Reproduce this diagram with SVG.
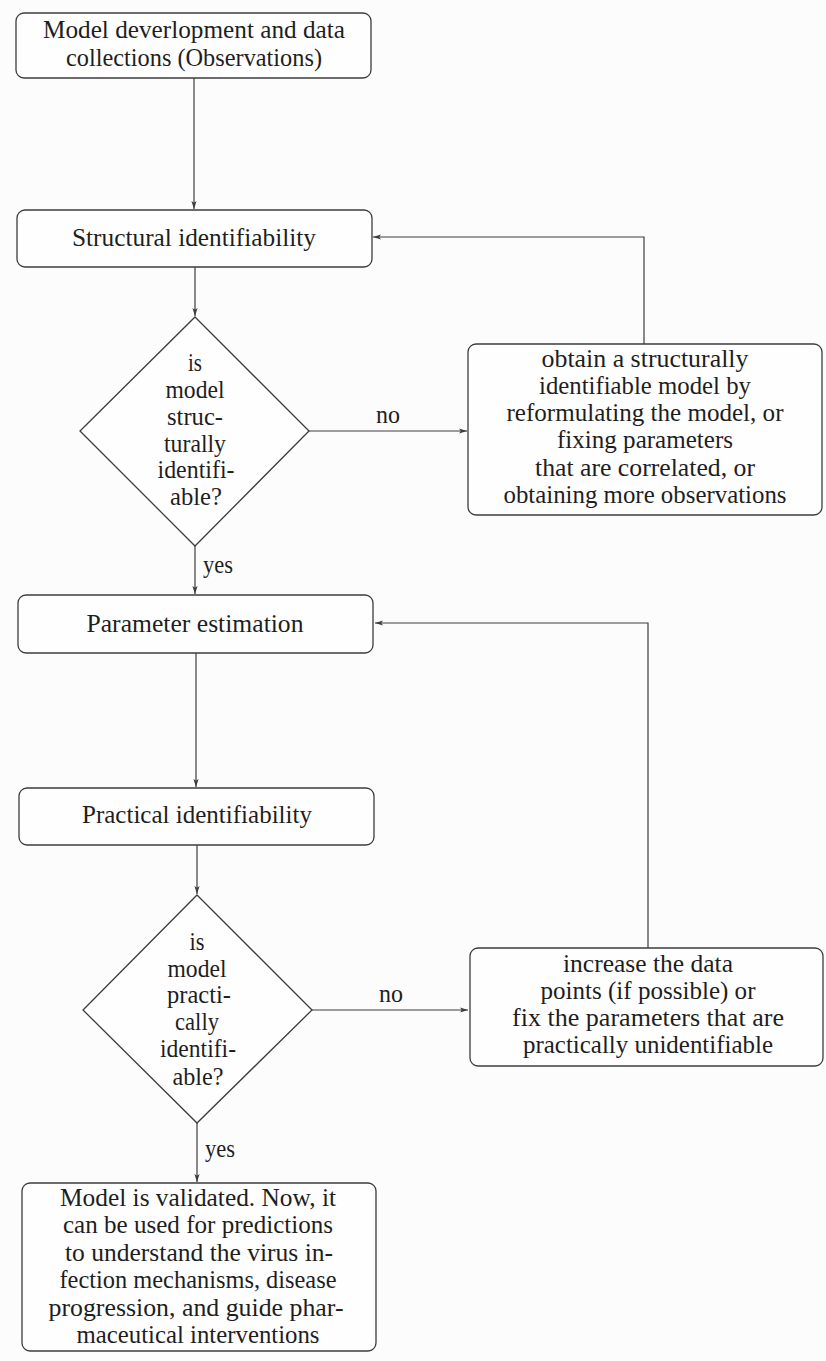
<svg xmlns="http://www.w3.org/2000/svg" width="826" height="1361" viewBox="0 0 826 1361">
<style>
.box{fill:#fefefe;stroke:#3c3c3c;stroke-width:1.3}
.con{fill:none;stroke:#3c3c3c;stroke-width:1.2}
text{font-family:'Liberation Serif','DejaVu Serif',serif;font-size:25px;fill:#1e1e1e;text-anchor:middle}
</style>
<defs>
<marker id="ah" viewBox="0 0 8 6" refX="8" refY="3" markerWidth="8" markerHeight="6" markerUnits="userSpaceOnUse" orient="auto">
<path d="M0,0.4 L8,3 L0,5.6 L1.8,3 z" fill="#3c3c3c"/>
</marker>
</defs>
<rect width="826" height="1361" fill="#fcfcfc"/>
<g id="connectors">
<path class="con" d="M194,78 V209" marker-end="url(#ah)"/>
<path class="con" d="M195,267 V316" marker-end="url(#ah)"/>
<path class="con" d="M309,431 H467" marker-end="url(#ah)"/>
<path class="con" d="M195,546 V594" marker-end="url(#ah)"/>
<path class="con" d="M644,344 V237 H373" marker-end="url(#ah)"/>
<path class="con" d="M196,653 V787" marker-end="url(#ah)"/>
<path class="con" d="M197,845 V894" marker-end="url(#ah)"/>
<path class="con" d="M312,1010 H468" marker-end="url(#ah)"/>
<path class="con" d="M197,1123 V1182" marker-end="url(#ah)"/>
<path class="con" d="M648,948 V623 H375" marker-end="url(#ah)"/>
<text x="388" y="423" textLength="24" lengthAdjust="spacingAndGlyphs">no</text>
<text x="218" y="573" textLength="30" lengthAdjust="spacingAndGlyphs">yes</text>
<text x="391" y="1002" textLength="24" lengthAdjust="spacingAndGlyphs">no</text>
<text x="220" y="1157" textLength="30" lengthAdjust="spacingAndGlyphs">yes</text>
</g>
<g id="n1">
<rect class="box" x="16" y="13" width="355" height="65" rx="8"/>
<text x="194" y="37.5" textLength="302" lengthAdjust="spacingAndGlyphs">Model deverlopment and data</text>
<text x="194" y="65.5" textLength="256" lengthAdjust="spacingAndGlyphs">collections (Observations)</text>
</g>
<g id="n2">
<rect class="box" x="17" y="210" width="355" height="57" rx="8"/>
<text x="194" y="246" textLength="244" lengthAdjust="spacingAndGlyphs">Structural identifiability</text>
</g>
<g id="d1">
<polygon class="box" points="195,317 309,431 195,546 80,431"/>
<text x="195" y="371" textLength="14" lengthAdjust="spacingAndGlyphs">is</text>
<text x="195" y="398" textLength="59" lengthAdjust="spacingAndGlyphs">model</text>
<text x="195" y="425" textLength="56" lengthAdjust="spacingAndGlyphs">struc-</text>
<text x="195" y="452" textLength="62" lengthAdjust="spacingAndGlyphs">turally</text>
<text x="196" y="478" textLength="77" lengthAdjust="spacingAndGlyphs">identifi-</text>
<text x="196" y="505" textLength="52" lengthAdjust="spacingAndGlyphs">able?</text>
</g>
<g id="n3">
<rect class="box" x="468" y="344" width="354" height="171" rx="8"/>
<text x="645" y="367" textLength="207" lengthAdjust="spacingAndGlyphs">obtain a structurally</text>
<text x="645" y="394" textLength="212" lengthAdjust="spacingAndGlyphs">identifiable model by</text>
<text x="645" y="421" textLength="277" lengthAdjust="spacingAndGlyphs">reformulating the model, or</text>
<text x="645" y="448" textLength="176" lengthAdjust="spacingAndGlyphs">fixing parameters</text>
<text x="645" y="476" textLength="220" lengthAdjust="spacingAndGlyphs">that are correlated, or</text>
<text x="645" y="503" textLength="283" lengthAdjust="spacingAndGlyphs">obtaining more observations</text>
</g>
<g id="n4">
<rect class="box" x="18" y="595" width="355" height="58" rx="8"/>
<text x="195" y="632" textLength="217" lengthAdjust="spacingAndGlyphs">Parameter estimation</text>
</g>
<g id="n5">
<rect class="box" x="19" y="788" width="355" height="57" rx="8"/>
<text x="197" y="823" textLength="230" lengthAdjust="spacingAndGlyphs">Practical identifiability</text>
</g>
<g id="d2">
<polygon class="box" points="197,895 312,1010 197,1123 83,1010"/>
<text x="197" y="950" textLength="15" lengthAdjust="spacingAndGlyphs">is</text>
<text x="197" y="977" textLength="59" lengthAdjust="spacingAndGlyphs">model</text>
<text x="199" y="1003" textLength="64" lengthAdjust="spacingAndGlyphs">practi-</text>
<text x="197" y="1030" textLength="44" lengthAdjust="spacingAndGlyphs">cally</text>
<text x="198" y="1057" textLength="76" lengthAdjust="spacingAndGlyphs">identifi-</text>
<text x="198" y="1085" textLength="51" lengthAdjust="spacingAndGlyphs">able?</text>
</g>
<g id="n6">
<rect class="box" x="470" y="948" width="353" height="118" rx="8"/>
<text x="648" y="972" textLength="170" lengthAdjust="spacingAndGlyphs">increase the data</text>
<text x="648" y="999" textLength="215" lengthAdjust="spacingAndGlyphs">points (if possible) or</text>
<text x="648" y="1026" textLength="272" lengthAdjust="spacingAndGlyphs">fix the parameters that are</text>
<text x="648" y="1053" textLength="250" lengthAdjust="spacingAndGlyphs">practically unidentifiable</text>
</g>
<g id="n7">
<rect class="box" x="22" y="1183" width="354" height="168" rx="8"/>
<text x="198" y="1206" textLength="276" lengthAdjust="spacingAndGlyphs">Model is validated. Now, it</text>
<text x="198" y="1233" textLength="270" lengthAdjust="spacingAndGlyphs">can be used for predictions</text>
<text x="199" y="1261" textLength="268" lengthAdjust="spacingAndGlyphs">to understand the virus in-</text>
<text x="198" y="1288" textLength="277" lengthAdjust="spacingAndGlyphs">fection mechanisms, disease</text>
<text x="196" y="1316" textLength="295" lengthAdjust="spacingAndGlyphs">progression, and guide phar-</text>
<text x="198" y="1343" textLength="243" lengthAdjust="spacingAndGlyphs">maceutical interventions</text>
</g>
</svg>
